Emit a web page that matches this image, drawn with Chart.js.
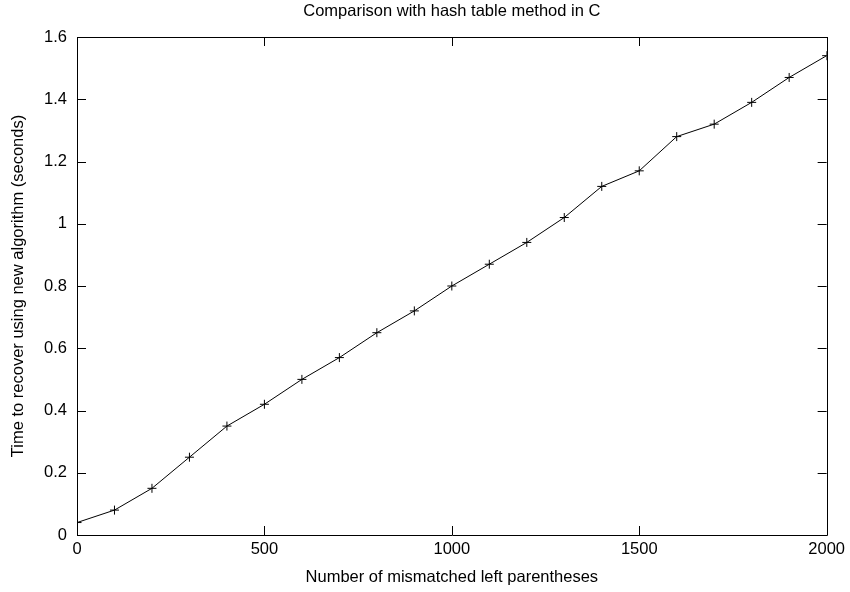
<!DOCTYPE html>
<html>
<head>
<meta charset="utf-8">
<script src="https://cdn.jsdelivr.net/npm/chart.js@4/dist/chart.umd.min.js"></script>
<style>
  html, body { margin: 0; padding: 0; background: #fff; }
  #wrap { width: 850px; height: 592px; position: relative; }
</style>
</head>
<body>
<div id="wrap"><canvas id="c" width="850" height="592"></canvas></div>
<script>
const xValues = [0, 100, 200, 300, 400, 500, 600, 700, 800, 900, 1000, 1100, 1200, 1300, 1400, 1500, 1600, 1700, 1800, 1900, 2000];
const timeValues = [0.04, 0.08, 0.15, 0.25, 0.35, 0.42, 0.50, 0.57, 0.65, 0.72, 0.80, 0.87, 0.94, 1.02, 1.12, 1.17, 1.28, 1.32, 1.39, 1.47, 1.54];
const xTicks = [0, 500, 1000, 1500, 2000];
const yTicks = [0, 0.2, 0.4, 0.6, 0.8, 1, 1.2, 1.4, 1.6];
const titleText = 'Comparison with hash table method in C';
const xTitle = 'Number of mismatched left parentheses';
const yTitle = 'Time to recover using new algorithm (seconds)';

const FONT = '"Liberation Sans", Arial, Helvetica, sans-serif';
const FS = 16.5;

const frameAndTicks = {
  id: 'frameAndTicks',
  afterDatasetsDraw(chart) {
    const { ctx, chartArea: a, scales } = chart;
    ctx.save();
    ctx.strokeStyle = '#000';
    ctx.lineWidth = 1;
    ctx.beginPath();
    ctx.rect(Math.round(a.left) + 0.5, Math.round(a.top) + 0.5, Math.round(a.right - a.left), Math.round(a.bottom - a.top));
    ctx.stroke();
    const L = 9;
    ctx.beginPath();
    scales.x.ticks.forEach(t => {
      const px = Math.round(scales.x.getPixelForValue(t.value)) + 0.5;
      ctx.moveTo(px, a.bottom); ctx.lineTo(px, a.bottom - L);
      ctx.moveTo(px, a.top); ctx.lineTo(px, a.top + L);
    });
    scales.y.ticks.forEach(t => {
      const py = Math.round(scales.y.getPixelForValue(t.value)) + 0.5;
      ctx.moveTo(a.left, py); ctx.lineTo(a.left + L, py);
      ctx.moveTo(a.right, py); ctx.lineTo(a.right - L, py);
    });
    ctx.stroke();
    ctx.restore();
  }
};

new Chart(document.getElementById('c'), {
  type: 'line',
  data: {
    datasets: [{
      data: xValues.map((x, i) => ({ x: x, y: timeValues[i] })),
      borderColor: '#000',
      borderWidth: 1,
      pointStyle: 'cross',
      pointRadius: 4.5,
      pointBorderColor: '#000',
      pointBorderWidth: 1,
      pointBackgroundColor: '#000',
      tension: 0,
      fill: false
    }]
  },
  options: {
    responsive: false,
    animation: false,
    devicePixelRatio: 1,
    layout: { padding: { left: 0, right: 22, top: 0, bottom: 0 } },
    plugins: {
      legend: { display: false },
      tooltip: { enabled: false },
      title: {
        display: true,
        fullSize: false,
        text: titleText,
        color: '#000',
        font: { family: FONT, size: FS, weight: 'normal' },
        padding: { top: 2, bottom: 15.2 }
      }
    },
    scales: {
      x: {
        type: 'linear',
        min: 0, max: 2000,
        afterBuildTicks(scale) { scale.ticks = xTicks.map(v => ({ value: v })); },
        afterFit(scale) { scale.height = 57; },
        grid: { display: true, drawOnChartArea: false, drawTicks: false },
        border: { display: false },
        ticks: {
          color: '#000',
          font: { family: FONT, size: FS },
          padding: 5,
          maxRotation: 0,
          autoSkip: false,
          callback: v => String(v)
        },
        title: {
          display: true,
          text: xTitle,
          color: '#000',
          font: { family: FONT, size: FS },
          padding: { top: 0, bottom: 5 }
        }
      },
      y: {
        type: 'linear',
        min: 0, max: 1.6,
        afterBuildTicks(scale) { scale.ticks = yTicks.map(v => ({ value: v })); },
        afterFit(scale) { scale.width = 77; },
        grid: { display: true, drawOnChartArea: false, drawTicks: false },
        border: { display: false },
        ticks: {
          color: '#000',
          font: { family: FONT, size: FS },
          padding: 10,
          autoSkip: false,
          callback: v => String(Math.round(v * 10) / 10)
        },
        title: {
          display: true,
          text: yTitle,
          color: '#000',
          font: { family: FONT, size: FS },
          padding: { top: 9, bottom: 0 }
        }
      }
    }
  },
  plugins: [frameAndTicks]
});
</script>
</body>
</html>
